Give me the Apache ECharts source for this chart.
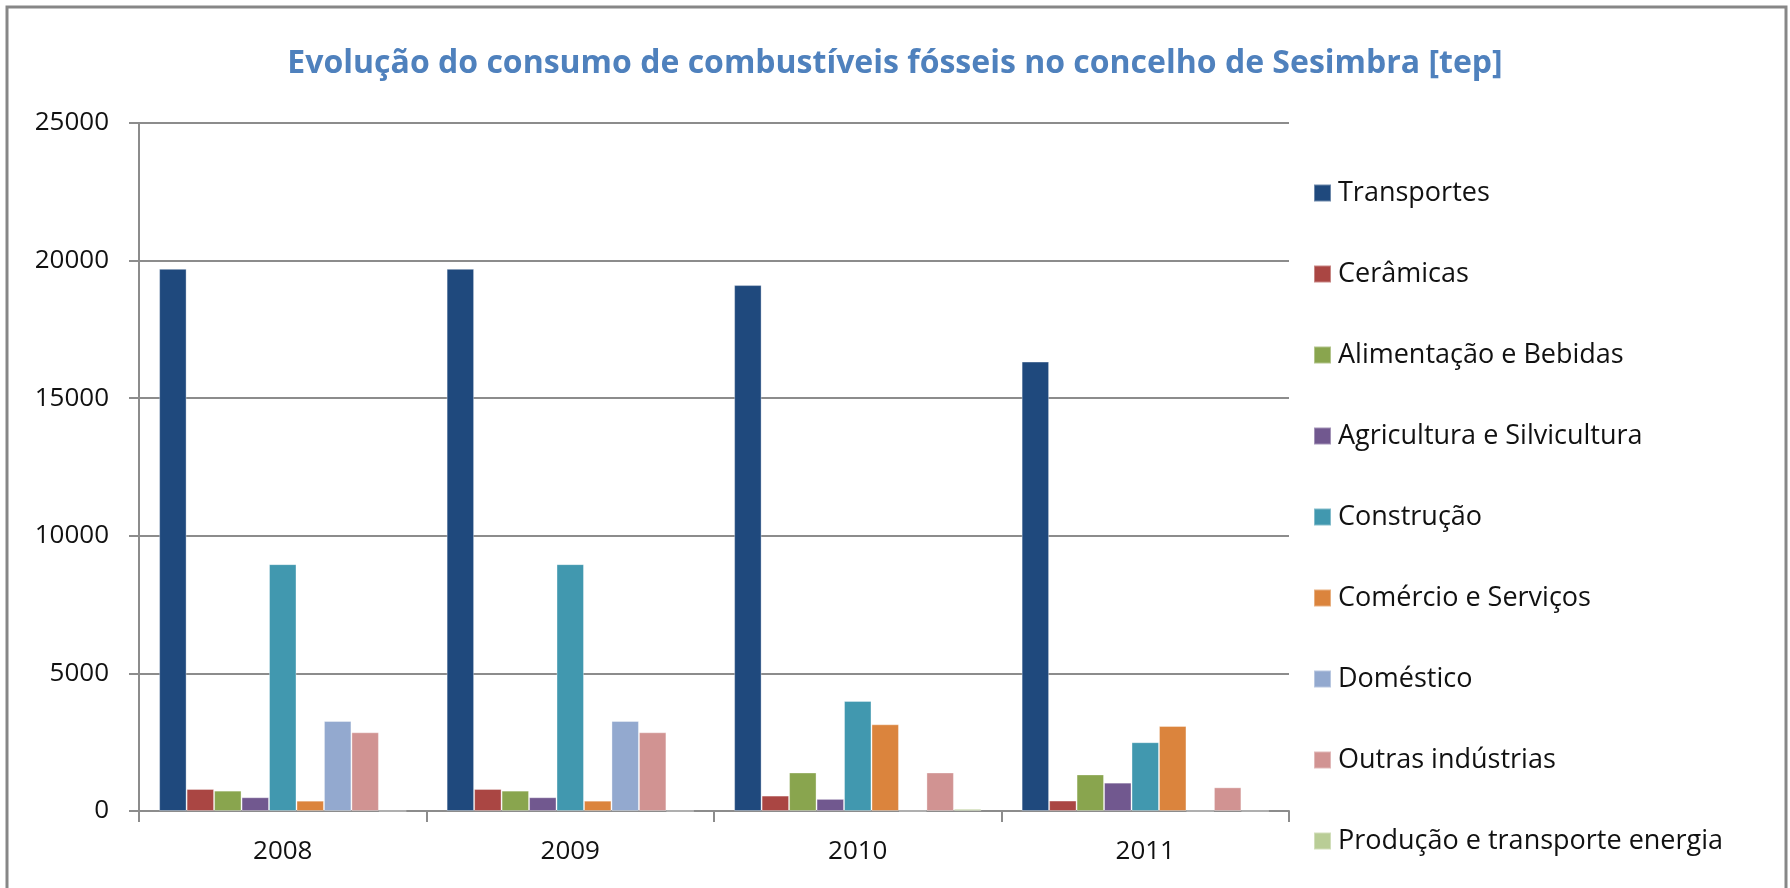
<!DOCTYPE html>
<html>
<head>
<meta charset="utf-8">
<title>Sesimbra</title>
<script src="https://cdn.jsdelivr.net/npm/echarts@6/dist/echarts.min.js"></script>
<style>
    html,body{margin:0;padding:0;background:#fff;}
    #container{width:1790px;height:888px;}
</style>
</head>
<body>
<div id="container"></div>
<script>
// dados (tep)
var anos = ['2008', '2009', '2010', '2011'];
var setores = ['Transportes', 'Cerâmicas', 'Alimentação e Bebidas', 'Agricultura e Silvicultura',
    'Construção', 'Comércio e Serviços', 'Doméstico', 'Outras indústrias', 'Produção e transporte energia'];
var transportes = [19700, 19700, 19110, 16330];
var ceramicas = [800, 800, 560, 380];
var alimentacao = [740, 740, 1400, 1330];
var agricultura = [500, 500, 440, 1030];
var construcao = [8970, 8970, 4000, 2500];
var comercio = [375, 375, 3150, 3090];
var domestico = [3270, 3270, 0, 0];
var outras = [2860, 2860, 1400, 860];
var producao = [0, 0, 80, 0];
var yTicks = [0, 5000, 10000, 15000, 20000, 25000];

var cores = ['#1F497D', '#AA4643', '#89A54E', '#71588F', '#4198AF', '#DB843D', '#93A9CF', '#D19392', '#B9CD96'];
var valores = [transportes, ceramicas, alimentacao, agricultura, construcao, comercio, domestico, outras, producao];

var fonte = '"Open Sans", "Liberation Sans", sans-serif';

var series = [];
for (var i = 0; i < setores.length; i++) {
    series.push({
        name: setores[i],
        type: 'bar',
        data: valores[i],
        barGap: '0%',
        barCategoryGap: '14%',
        itemStyle: {
            color: cores[i],
            borderColor: 'rgba(255,255,255,0.35)',
            borderWidth: 1
        },
        emphasis: {disabled: true}
    });
}

var myChart = echarts.init(document.getElementById('container'));
var option = {
    animation: false,
    color: cores,
    title: {
        text: 'Evolução do consumo de combustíveis fósseis no concelho de Sesimbra [tep]',
        left: 'center',
        top: 43,
        textStyle: {
            color: '#4F81BD',
            fontFamily: fonte,
            fontWeight: 'bold',
            fontSize: 32
        }
    },
    legend: {
        orient: 'vertical',
        left: 1308,
        top: 173,
        itemWidth: 17,
        itemHeight: 17,
        itemGap: 51,
        icon: 'rect',
        selectedMode: false,
        data: setores,
        textStyle: {
            color: '#111',
            fontFamily: fonte,
            fontSize: 27,
            lineHeight: 30,
            padding: [0, 0, 0, 2]
        }
    },
    graphic: [{
        type: 'rect',
        silent: true,
        shape: {x: 7, y: 7, width: 1779, height: 900},
        style: {fill: 'none', stroke: '#878787', lineWidth: 3}
    }],
    grid: {
        left: 139,
        right: 501,
        top: 123,
        bottom: 77
    },
    xAxis: {
        type: 'category',
        data: anos,
        axisLine: {lineStyle: {color: '#8c8c8c', width: 2}},
        axisTick: {show: true, length: 11, lineStyle: {color: '#8c8c8c', width: 2}},
        axisLabel: {
            color: '#111',
            fontFamily: fonte,
            fontSize: 26,
            margin: 28
        }
    },
    yAxis: {
        type: 'value',
        min: yTicks[0],
        max: yTicks[yTicks.length - 1],
        interval: yTicks[1] - yTicks[0],
        axisLine: {show: true, lineStyle: {color: '#8c8c8c', width: 2}},
        axisTick: {show: true, length: 10, lineStyle: {color: '#8c8c8c', width: 2}},
        splitLine: {show: true, lineStyle: {color: '#8c8c8c', width: 2}},
        axisLabel: {
            color: '#111',
            fontFamily: fonte,
            fontSize: 26,
            margin: 30,
            formatter: function (v) { return String(v); }
        }
    },
    series: series
};
myChart.setOption(option);
</script>
</body>
</html>
